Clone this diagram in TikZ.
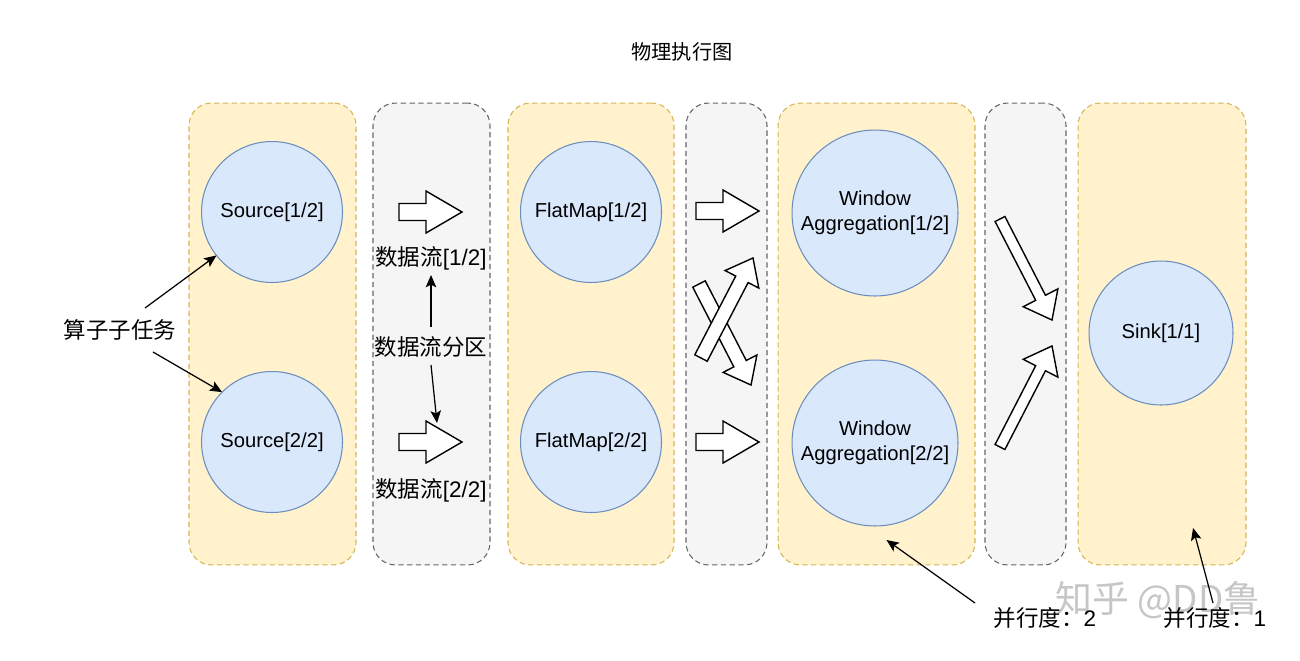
\documentclass[tikz,border=0pt]{standalone}
\usepackage{fontspec}
\setmainfont{Liberation Sans}
\newfontfamily\cjk{Noto Sans CJK SC}
\usetikzlibrary{calc,arrows.meta}
\definecolor{yfill}{HTML}{FFF2CC}
\definecolor{ydraw}{HTML}{D6B656}
\definecolor{gfill}{HTML}{F5F5F5}
\definecolor{gdraw}{HTML}{666666}
\definecolor{cfill}{HTML}{DAE8FC}
\definecolor{cdraw}{HTML}{6C8EBF}
\tikzset{
  lane/.style={rectangle, rounded corners=0.45cm, dash pattern=on 3pt off 2pt, line width=0.6pt,
    inner sep=0pt, outer sep=0pt, minimum height=9.24cm},
  ylane/.style={lane, fill=yfill, draw=ydraw},
  glane/.style={lane, fill=gfill, draw=gdraw},
  op/.style={circle, fill=cfill, draw=cdraw, line width=0.6pt, inner sep=0pt, outer sep=0pt,
    align=center, font=\fontsize{11.5}{14.5}\selectfont},
  lbl/.style={inner sep=0pt, font=\fontsize{12.8}{15}\selectfont, text=black},
  conn/.style={-{Stealth[length=7pt,width=6pt,inset=1.5pt]}, line width=0.7pt},
  barrow/.style={draw=black, fill=white, line width=0.8pt, line join=miter},
}
% block arrow: #1 tail, #2 tip, #3 shaft half width, #4 head half width, #5 head length
\newcommand{\blockarr}[5]{%
  \coordinate (ba-c) at ($(#2)!#5!(#1)$);
  \draw[barrow] ($(#1)!#3!90:(#2)$) -- ($(ba-c)!#3!90:(#2)$) -- ($(ba-c)!#4!90:(#2)$) -- (#2)
    -- ($(ba-c)!#4!-90:(#2)$) -- ($(ba-c)!#3!-90:(#2)$) -- ($(#1)!#3!-90:(#2)$) -- cycle;}
\begin{document}
\begin{tikzpicture}[x=0.02cm,y=-0.02cm]
\useasboundingbox (0,0) rectangle (1300,660);
\fill[white] (0,0) rectangle (1300,660);

% title
\node[lbl, font=\cjk\fontsize{11.5}{14}\selectfont] (title) at (682,52) {物理执行图};

% lanes
\node[ylane, minimum width=3.34cm] (lane1) at (272.5,334) {};
\node[glane, minimum width=2.34cm] (lane2) at (431.5,334) {};
\node[ylane, minimum width=3.32cm] (lane3) at (591,334) {};
\node[glane, minimum width=1.62cm] (lane4) at (726.5,334) {};
\node[ylane, minimum width=3.94cm] (lane5) at (876.5,334) {};
\node[glane, minimum width=1.62cm] (lane6) at (1025.5,334) {};
\node[ylane, minimum width=3.36cm] (lane7) at (1162,334) {};

% operators
\node[op, minimum size=2.82cm] (src1) at (272,212) {Source[1/2]};
\node[op, minimum size=2.82cm] (src2) at (272,442) {Source[2/2]};
\node[op, minimum size=2.82cm] (fm1) at (591,212) {FlatMap[1/2]};
\node[op, minimum size=2.82cm] (fm2) at (591,442) {FlatMap[2/2]};
\node[op, minimum size=3.32cm] (wa1) at (875,213) {Window\\Aggregation[1/2]};
\node[op, minimum size=3.32cm] (wa2) at (875,443) {Window\\Aggregation[2/2]};
\node[op, minimum size=2.88cm] (sink) at (1161,333) {Sink[1/1]};

% block arrows
\coordinate (a1t) at (399,212); \coordinate (a1h) at (462,212);
\coordinate (a2t) at (399,442); \coordinate (a2h) at (462,442);
\coordinate (b1t) at (696,211); \coordinate (b1h) at (759,211);
\coordinate (b2t) at (696,442); \coordinate (b2h) at (759,442);
\coordinate (x1t) at (701,358); \coordinate (x1h) at (753,258);
\coordinate (x2t) at (699,284); \coordinate (x2h) at (751,385);
\coordinate (c1t) at (1000,219); \coordinate (c1h) at (1052,320);
\coordinate (c2t) at (1000,447); \coordinate (c2h) at (1052,346);
\blockarr{a1t}{a1h}{0.17cm}{0.42cm}{0.72cm}
\blockarr{a2t}{a2h}{0.17cm}{0.42cm}{0.72cm}
\blockarr{b1t}{b1h}{0.17cm}{0.42cm}{0.72cm}
\blockarr{b2t}{b2h}{0.17cm}{0.42cm}{0.72cm}
\blockarr{x2t}{x2h}{0.14cm}{0.38cm}{0.48cm}
\blockarr{x1t}{x1h}{0.14cm}{0.38cm}{0.48cm}
\blockarr{c1t}{c1h}{0.11cm}{0.39cm}{0.5cm}
\blockarr{c2t}{c2h}{0.11cm}{0.39cm}{0.5cm}

% labels
\node[lbl] (task) at (120,330) {{\cjk 算子子任务}};
\node[lbl] (df1) at (431,258) {{\cjk 数据流}[1/2]};
\node[lbl] (part) at (431,347) {{\cjk 数据流分区}};
\node[lbl] (df2) at (431,490) {{\cjk 数据流}[2/2]};

% watermark
\node[inner sep=0pt, text=gray!45, font=\cjk\fontsize{21}{21}\selectfont] (wm) at (1158,600) {知乎 @DD鲁};

\node[lbl] (par2) at (1045,618) {{\cjk 并行度：}2};
\node[lbl] (par1) at (1215,618) {{\cjk 并行度：}1};

% connectors
\draw[conn] ($(task)+(25,-22)$) -- (src1.218);
\draw[conn] ($(task)+(33,22)$) -- (src2.135);
\draw[conn] ($(part)+(0,-20)$) -- ($(df1)+(0,17)$);
\draw[conn] ($(part)+(0,18)$) -- ($(a2t)+(38,-19)$);
\draw[conn] ($(par2)+(-70,-15)$) -- ($(lane5.south)+(10,-25)$);
\draw[conn] ($(par1)+(-2,-15)$) -- ($(lane7.south)+(31,-37)$);
\end{tikzpicture}
\end{document}
